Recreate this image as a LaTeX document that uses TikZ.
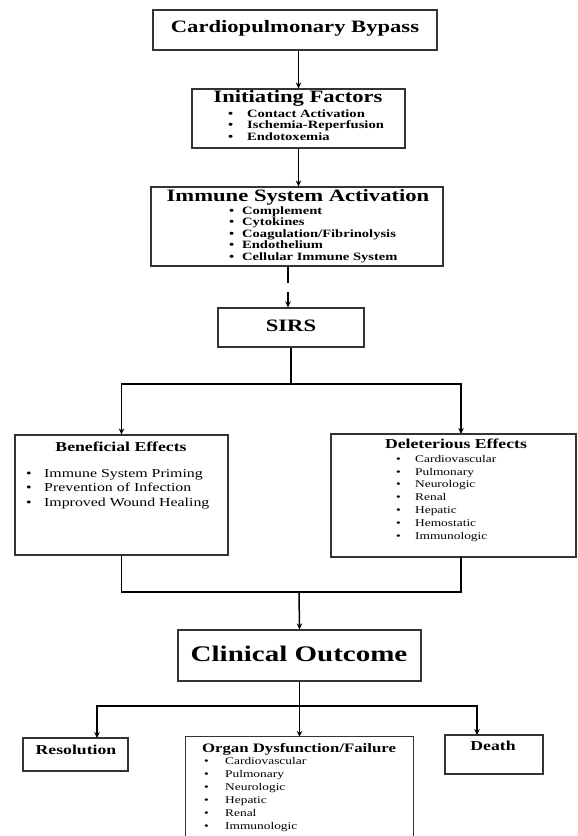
\documentclass[tikz,border=0pt]{standalone}
\usepackage{fontspec}
\setmainfont{Liberation Serif}[FakeStretch=1.3]
\usetikzlibrary{arrows.meta}
\tikzset{
  box/.style={draw=black!80, line width=1.2pt, inner sep=0pt, fill=none},
  arr/.style={-{Stealth[length=6pt,width=5.5pt]}, line width=1.5pt},
  con/.style={line width=1.5pt},
  ttl/.style={font=\bfseries\fontsize{17.4}{20}\selectfont, anchor=mid, inner sep=0pt},
  big/.style={font=\bfseries\fontsize{22.3}{26}\selectfont, anchor=mid, inner sep=0pt},
  sub/.style={font=\bfseries\fontsize{13.6}{16}\selectfont, anchor=mid, inner sep=0pt},
  subs/.style={font=\bfseries\fontsize{12.9}{15}\selectfont, anchor=mid, inner sep=0pt},
  itb/.style={font=\bfseries\fontsize{11.2}{13}\selectfont, anchor=mid west, inner sep=0pt},
  itr/.style={font=\fontsize{12.2}{14}\selectfont, anchor=mid west, inner sep=0pt},
  its/.style={font=\fontsize{10.3}{12}\selectfont, anchor=mid west, inner sep=0pt}
}
\begin{document}
\begin{tikzpicture}[x=1pt,y=-1pt]
\useasboundingbox (0,0) rectangle (578,836);
\fill[white] (0,0) rectangle (578,836);

% boxes
\node[box, minimum width=284pt, minimum height=40pt] (cpb) at (295,30) {};
\node[box, minimum width=213pt, minimum height=59pt] (init) at (298.5,118.5) {};
\node[box, minimum width=292pt, minimum height=79pt] (imm) at (297,226.5) {};
\node[box, minimum width=146pt, minimum height=39pt] (sirs) at (291,327.5) {};
\node[box, minimum width=213pt, minimum height=120pt] (ben) at (121.5,495) {};
\node[box, minimum width=245pt, minimum height=123pt] (del) at (453.5,495.5) {};
\node[box, minimum width=243pt, minimum height=51pt] (clin) at (299.5,655.5) {};
\node[box, minimum width=105pt, minimum height=33pt] (res) at (75.5,754.5) {};
\node[inner sep=0pt, minimum width=227pt, minimum height=99pt] (org) at (299.5,786.5) {};
\draw[draw=black!80, line width=1.2pt] (org.south west) -- (org.north west) -- (org.north east) -- (org.south east);
\node[box, minimum width=98pt, minimum height=39pt] (death) at (494,754.5) {};

% titles
\node[ttl] (cpbt) at (295,30) {Cardiopulmonary Bypass};
\node[ttl] (initt) at (298,100) {Initiating Factors};
\node[ttl] (immt) at (298,199) {Immune System Activation};
\node[ttl] (sirst) at (291,329) {SIRS};
\node[sub] (bent) at (121,449) {Beneficial Effects};
\node[sub] (delt) at (456,446) {Deleterious Effects};
\node[big] (clint) at (299,659) {Clinical Outcome};
\node[sub] (rest) at (76,752) {Resolution};
\node[subs] (orgt) at (299,750) {Organ Dysfunction/Failure};
\node[sub] (deatht) at (493,748) {Death};

% items
\foreach \t [count=\i] in {Contact Activation, Ischemia-Reperfusion, Endotoxemia}
  \node[itb] (init-\i) at (228,{103.5+11.5*\i}) {\makebox[19pt][l]{\textbullet}\t};
\foreach \t [count=\i] in {Complement, Cytokines, Coagulation/Fibrinolysis, Endothelium, Cellular Immune System}
  \node[itb] (imm-\i) at (229,{200.5+11.5*\i}) {\makebox[13pt][l]{\textbullet}\t};
\foreach \t [count=\i] in {Immune System Priming, Prevention of Infection, Improved Wound Healing}
  \node[itr] (ben-\i) at (26,{460.5+14.5*\i}) {\makebox[18pt][l]{\textbullet}\t};
\foreach \t [count=\i] in {Cardiovascular, Pulmonary, Neurologic, Renal, Hepatic, Hemostatic, Immunologic}
  \node[its] (del-\i) at (396,{447.2+12.8*\i}) {\makebox[19pt][l]{\textbullet}\t};
\foreach \t [count=\i] in {Cardiovascular, Pulmonary, Neurologic, Hepatic, Renal, Immunologic}
  \node[its] (org-\i) at (204,{749+13*\i}) {\makebox[21pt][l]{\textbullet}\t};

% connectors
\coordinate (g1) at (288,283);
\coordinate (g2) at (288,292);
\coordinate (j1) at (291,384);
\coordinate (dtop) at (461,434);
\coordinate (dbot) at (461,557);
\coordinate (j2) at (299,592);
\coordinate (j3) at (299,706);
\coordinate (rtop) at (97,738);
\coordinate (dttop) at (477,735);

\draw[arr] (init.north |- cpb.south) -- (init.north);
\draw[arr] (init.south) -- (init.south |- imm.north);
\draw[con] (g1 |- imm.south) -- (g1);
\draw[arr] (g2) -- (g2 |- sirs.north);
\draw[arr] (sirs.south) -- (j1) -| (ben.north);
\draw[arr] (j1) -| (dtop);
\draw[con] (ben.south) |- (j2);
\draw[con] (dbot) |- (j2);
\draw[arr] (j2) -- (clin.north);
\draw[arr] (clin.south) -- (org.north);
\draw[arr] (j3) -| (rtop);
\draw[arr] (j3) -| (dttop);
\end{tikzpicture}
\end{document}
